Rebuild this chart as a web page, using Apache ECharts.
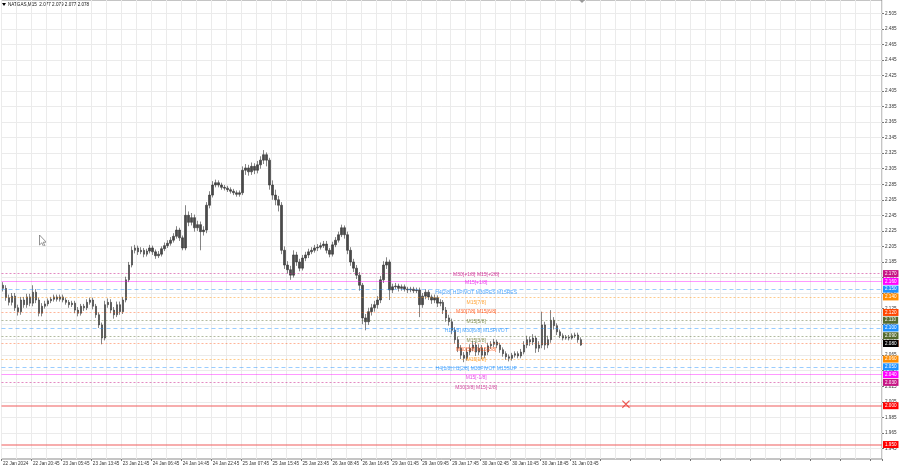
<!DOCTYPE html>
<html><head><meta charset="utf-8">
<script src="https://cdn.jsdelivr.net/npm/echarts@6/dist/echarts.min.js"></script>
<style>html,body{margin:0;padding:0;background:#fff}#c{width:900px;height:468px}</style>
</head><body><div id="c"></div>
<script>
// ---- data ----
const xTickLabels = ['22 Jan 2024','22 Jan 20:45','23 Jan 05:45','23 Jan 13:45','23 Jan 21:45','24 Jan 06:45','24 Jan 14:45','24 Jan 22:45','25 Jan 07:45','25 Jan 15:45','25 Jan 23:45','26 Jan 08:45','26 Jan 16:45','29 Jan 01:45','29 Jan 09:45','29 Jan 17:45','30 Jan 02:45','30 Jan 10:45','30 Jan 18:45','31 Jan 03:45'];
const yTickValues = [2.505,2.485,2.465,2.445,2.425,2.405,2.385,2.365,2.345,2.325,2.305,2.285,2.265,2.245,2.225,2.205,2.185,2.165,2.145,2.125,2.105,2.085,2.065,2.045,2.025,2.005,1.985,1.965,1.945];

const openPrices = [2.155,2.151,2.139,2.133,2.141,2.126,2.121,2.136,2.130,2.140,
2.132,2.146,2.136,2.119,2.128,2.131,2.135,2.137,2.140,2.137,
2.140,2.136,2.133,2.130,2.132,2.123,2.119,2.128,2.126,2.133,
2.136,2.128,2.117,2.104,2.087,2.130,2.133,2.123,2.117,2.130,
2.121,2.136,2.162,2.181,2.200,2.203,2.198,2.200,2.195,2.199,
2.203,2.198,2.193,2.195,2.202,2.206,2.209,2.213,2.218,2.226,
2.216,2.203,2.245,2.236,2.242,2.229,2.233,2.224,2.226,2.258,
2.271,2.284,2.287,2.284,2.281,2.280,2.278,2.276,2.274,2.272,
2.274,2.303,2.306,2.301,2.308,2.303,2.310,2.316,2.323,2.316,
2.284,2.271,2.265,2.258,2.200,2.181,2.175,2.168,2.194,2.185,
2.177,2.190,2.194,2.198,2.200,2.203,2.204,2.206,2.208,2.200,
2.195,2.207,2.213,2.220,2.229,2.220,2.200,2.185,2.177,2.168,
2.155,2.113,2.108,2.121,2.126,2.130,2.136,2.162,2.181,2.185,
2.149,2.153,2.154,2.151,2.153,2.150,2.149,2.150,2.148,2.149,
2.130,2.141,2.146,2.140,2.136,2.139,2.132,2.133,2.123,2.113,
2.108,2.097,2.085,2.074,2.065,2.061,2.069,2.074,2.078,2.069,
2.074,2.065,2.069,2.077,2.079,2.082,2.078,2.072,2.067,2.063,
2.061,2.065,2.067,2.064,2.069,2.078,2.085,2.082,2.087,2.074,
2.078,2.104,2.078,2.085,2.110,2.103,2.095,2.090,2.087,2.088,
2.087,2.090,2.091,2.085];

const closePrices = [2.151,2.139,2.133,2.141,2.126,2.121,2.136,2.130,2.140,2.132,
2.146,2.136,2.119,2.128,2.131,2.135,2.137,2.140,2.137,2.140,
2.136,2.133,2.130,2.132,2.123,2.119,2.128,2.126,2.133,2.136,
2.128,2.117,2.104,2.087,2.130,2.133,2.123,2.117,2.130,2.121,
2.136,2.162,2.181,2.200,2.203,2.198,2.200,2.195,2.199,2.203,
2.198,2.193,2.195,2.202,2.206,2.209,2.213,2.218,2.226,2.216,
2.203,2.245,2.236,2.242,2.229,2.233,2.224,2.226,2.258,2.271,
2.284,2.287,2.284,2.281,2.280,2.278,2.276,2.274,2.272,2.274,
2.303,2.306,2.301,2.308,2.303,2.310,2.316,2.323,2.316,2.284,
2.271,2.265,2.258,2.200,2.181,2.175,2.168,2.194,2.185,2.177,
2.190,2.194,2.198,2.200,2.203,2.204,2.206,2.208,2.200,2.195,
2.207,2.213,2.220,2.229,2.220,2.200,2.185,2.177,2.168,2.155,
2.113,2.108,2.121,2.126,2.130,2.136,2.162,2.181,2.185,2.149,
2.153,2.154,2.151,2.153,2.150,2.149,2.150,2.148,2.149,2.130,
2.141,2.146,2.140,2.136,2.139,2.132,2.133,2.123,2.113,2.108,
2.097,2.085,2.074,2.065,2.061,2.069,2.074,2.078,2.069,2.074,
2.065,2.069,2.077,2.079,2.082,2.078,2.072,2.067,2.063,2.061,
2.065,2.067,2.064,2.069,2.078,2.085,2.082,2.087,2.074,2.078,
2.104,2.078,2.085,2.110,2.103,2.095,2.090,2.087,2.088,2.087,
2.090,2.091,2.085,2.078];

const highPrices = [2.159,2.155,2.143,2.145,2.145,2.130,2.140,2.140,2.144,2.144,
2.155,2.150,2.139,2.132,2.135,2.138,2.140,2.143,2.143,2.143,
2.143,2.139,2.136,2.135,2.135,2.127,2.131,2.131,2.137,2.139,
2.139,2.131,2.120,2.107,2.135,2.138,2.137,2.127,2.134,2.134,
2.140,2.166,2.185,2.205,2.207,2.206,2.204,2.203,2.202,2.207,
2.206,2.201,2.199,2.205,2.210,2.213,2.217,2.222,2.231,2.229,
2.219,2.258,2.250,2.248,2.246,2.238,2.237,2.231,2.262,2.276,
2.289,2.291,2.290,2.287,2.284,2.283,2.281,2.279,2.277,2.277,
2.308,2.311,2.310,2.313,2.312,2.315,2.321,2.329,2.326,2.319,
2.290,2.278,2.270,2.262,2.205,2.186,2.180,2.200,2.198,2.189,
2.194,2.198,2.202,2.204,2.207,2.208,2.210,2.212,2.212,2.203,
2.211,2.217,2.224,2.233,2.232,2.224,2.204,2.189,2.181,2.172,
2.158,2.118,2.126,2.131,2.135,2.141,2.167,2.186,2.191,2.188,
2.157,2.158,2.157,2.156,2.156,2.153,2.153,2.153,2.152,2.152,
2.145,2.150,2.149,2.143,2.143,2.142,2.137,2.136,2.127,2.117,
2.112,2.101,2.089,2.078,2.069,2.074,2.079,2.083,2.082,2.079,
2.078,2.074,2.081,2.083,2.086,2.085,2.081,2.075,2.070,2.066,
2.068,2.070,2.070,2.073,2.083,2.090,2.089,2.092,2.090,2.083,
2.121,2.108,2.090,2.123,2.114,2.106,2.098,2.093,2.091,2.091,
2.093,2.094,2.094,2.088];

const lowPrices = [2.147,2.135,2.129,2.129,2.122,2.116,2.117,2.126,2.126,2.128,
2.128,2.132,2.115,2.115,2.125,2.128,2.132,2.134,2.134,2.134,
2.133,2.130,2.126,2.127,2.119,2.115,2.116,2.122,2.123,2.130,
2.124,2.113,2.100,2.079,2.084,2.126,2.119,2.112,2.114,2.117,
2.118,2.133,2.159,2.178,2.196,2.194,2.195,2.191,2.192,2.196,
2.194,2.189,2.190,2.192,2.199,2.203,2.206,2.210,2.215,2.212,
2.200,2.200,2.231,2.232,2.224,2.225,2.200,2.219,2.222,2.254,
2.268,2.281,2.281,2.278,2.277,2.275,2.273,2.271,2.269,2.269,
2.271,2.297,2.296,2.297,2.298,2.299,2.305,2.311,2.308,2.278,
2.265,2.258,2.250,2.195,2.176,2.170,2.162,2.165,2.180,2.173,
2.174,2.186,2.190,2.195,2.197,2.199,2.201,2.203,2.196,2.191,
2.192,2.204,2.210,2.217,2.215,2.195,2.180,2.172,2.163,2.148,
2.105,2.097,2.104,2.116,2.121,2.125,2.132,2.158,2.176,2.136,
2.145,2.150,2.147,2.148,2.147,2.145,2.146,2.145,2.145,2.114,
2.126,2.137,2.136,2.131,2.132,2.127,2.128,2.118,2.108,2.103,
2.092,2.080,2.069,2.060,2.056,2.058,2.065,2.070,2.064,2.065,
2.060,2.061,2.065,2.073,2.075,2.074,2.068,2.063,2.059,2.057,
2.058,2.062,2.061,2.061,2.066,2.074,2.077,2.078,2.068,2.069,
2.074,2.072,2.074,2.081,2.098,2.091,2.087,2.084,2.085,2.084,
2.085,2.087,2.081,2.077];

const levelPrices = [2.172,2.161,2.148,2.136,2.124,2.111,2.099,2.087,2.075,2.062,2.051,2.039,2.026];
const levelNames = ['M30[+1/8] M15[+2/8]','M15[+1/8]','H4[2/8] H1PIVOT M30RES M15RES','M15[7/8]','M30[7/8] M15[6/8]','M15[5/8]','H1[3/8] M30[6/8] M15PIVOT','M15[3/8]','M30[5/8] M15[2/8]','M15[1/8]','H4[1/8] H1[2/8] M30PIVOT M15SUP','M15[-1/8]','M30[3/8] M15[-2/8]'];
const redLevels = [2.002, 1.951];
const lastPrice = 2.078;
const signalPrice = 2.002;
const headerText = 'NATGAS,M15  2.077 2.079 2.077 2.078';

// ---- styles / layout ----
const FONT = 'Liberation Sans, Arial, sans-serif';
const levelColors = ['#C71585','#FF00FF','#1E90FF','#FF8C00','#FF4500','#556B2F','#1E90FF','#556B2F','#FF4500','#FF8C00','#1E90FF','#FF00FF','#C71585'];
const levelLineColors = ['rgba(199,21,133,0.5)','rgba(255,0,255,0.4)','rgba(30,144,255,0.45)','rgba(255,140,0,0.45)','rgba(255,69,0,0.4)','rgba(85,107,47,0.45)','rgba(30,144,255,0.45)','rgba(85,107,47,0.45)','rgba(255,69,0,0.4)','rgba(255,140,0,0.45)','rgba(30,144,255,0.45)','rgba(255,0,255,0.4)','rgba(199,21,133,0.5)'];
const levelTextColors = ['#C71585','#E01AE0','#1E90FF','#FF8C00','#FF4500','#6B7A2F','#1E90FF','#6B7A2F','#FF4500','#FF8C00','#1E90FF','#E01AE0','#C71585'];
const levelLineTypes = ['dotted','solid','dashed','dotted','dotted','dotted','dashed','dotted','dotted','dotted','dashed','solid','dotted'];
const N_CATS = 294;
const LABEL_CAT = 158;
const SIGNAL_CAT = 208;

const cats = [];
for (let i = 0; i < N_CATS; i++) cats.push('c' + i);
const candles = closePrices.map((c, i) => [openPrices[i], c, lowPrices[i], highPrices[i]]);

const tag = (bg) => ({show: true, position: 'end', distance: 1, color: '#fff', backgroundColor: bg, opacity: 1,
  padding: [1, 2, 1, 2], fontSize: 4.6, lineHeight: 5, fontFamily: FONT,
  formatter: p => Number(p.value).toFixed(3)});

const markData = levelPrices.map((v, i) => ({
  yAxis: v,
  lineStyle: {color: levelLineColors[i], width: 1, type: levelLineTypes[i] === 'dotted' ? [2, 2] : (levelLineTypes[i] === 'dashed' ? [4, 3] : 'solid')},
  label: tag(levelColors[i])
}));
redLevels.forEach(v => markData.push({yAxis: v, lineStyle: {color: 'rgba(240,110,110,0.75)', width: 1.5, type: 'solid'}, label: tag('#FF0000')}));
markData.push({yAxis: lastPrice, lineStyle: {color: 'rgba(0,0,0,0)', width: 0}, label: tag('#000000')});

const chart = echarts.init(document.getElementById('c'), null, {renderer: 'canvas'});
chart.setOption({
  animation: false,
  backgroundColor: '#fff',
  grid: {left: 0, right: 18, top: 0, bottom: 9, show: true, borderColor: '#8a8a8a', borderWidth: 1, containLabel: false},
  xAxis: {
    type: 'category', data: cats, boundaryGap: true,
    axisLine: {show: false},
    axisTick: {show: true, length: 2, interval: (i) => i % 10 === 0, lineStyle: {color: '#777'}},
    axisLabel: {show: true, interval: 0, align: 'left', margin: 2, fontSize: 4.6, color: '#333', fontFamily: FONT,
      formatter: (v, idx) => (idx % 10 === 0 && xTickLabels[idx / 10]) ? xTickLabels[idx / 10] : ''},
    splitLine: {show: true, interval: (i) => i % 5 === 0, lineStyle: {color: '#ebebeb', width: 1}}
  },
  yAxis: {
    type: 'value', position: 'right', min: 1.93139, max: 2.52212, scale: true,
    axisLine: {show: false},
    axisTick: {show: true, length: 2, customValues: yTickValues, lineStyle: {color: '#777'}},
    axisLabel: {show: true, customValues: yTickValues, margin: 3, fontSize: 4.6, color: '#333', fontFamily: FONT,
      formatter: v => Number(v).toFixed(3)},
    splitLine: {show: true, lineStyle: {color: '#ebebeb', width: 1}}
  },
  series: [
    {
      type: 'candlestick', data: candles, barWidth: 2,
      itemStyle: {color: '#4a4a4a', color0: '#4a4a4a', borderColor: '#333', borderColor0: '#333', borderWidth: 0.6},
      markLine: {silent: true, symbol: ['none', 'none'], animation: false, data: markData},
      z: 3
    },
    {
      type: 'scatter', symbolSize: 1, itemStyle: {color: 'rgba(0,0,0,0)'}, silent: true, z: 4,
      data: levelPrices.map((v, i) => ({value: [LABEL_CAT, v],
        label: {show: true, position: 'inside', offset: [0, 2.3], color: levelTextColors[i], fontSize: 5, fontFamily: FONT,
          formatter: levelNames[i]}}))
    },
    {
      type: 'scatter', silent: true, z: 5,
      symbol: 'path://M1,0 L5,4 L9,0 L10,1 L6,5 L10,9 L9,10 L5,6 L1,10 L0,9 L4,5 L0,1 Z',
      symbolSize: 8, itemStyle: {color: '#E8332A'},
      data: [[SIGNAL_CAT, signalPrice]]
    }
  ],
  graphic: [
    {type: 'polygon', shape: {points: [[2, 3], [6, 3], [4, 6]]}, style: {fill: '#000'}},
    {type: 'text', left: 8, top: 2, style: {text: headerText, fontSize: 4.6, fontFamily: FONT, fill: '#111'}},
    {type: 'polygon', shape: {points: [[579, 0], [585, 0], [582, 3]]}, style: {fill: '#999'}},
    {type: 'polygon', shape: {points: [[39.5, 235], [39.5, 245], [41.8, 242.8], [43.6, 246.5], [45, 245.8], [43.2, 242.2], [46.3, 242.2]]},
     style: {fill: '#fff', stroke: '#777', lineWidth: 0.8}}
  ]
});
</script></body></html>
